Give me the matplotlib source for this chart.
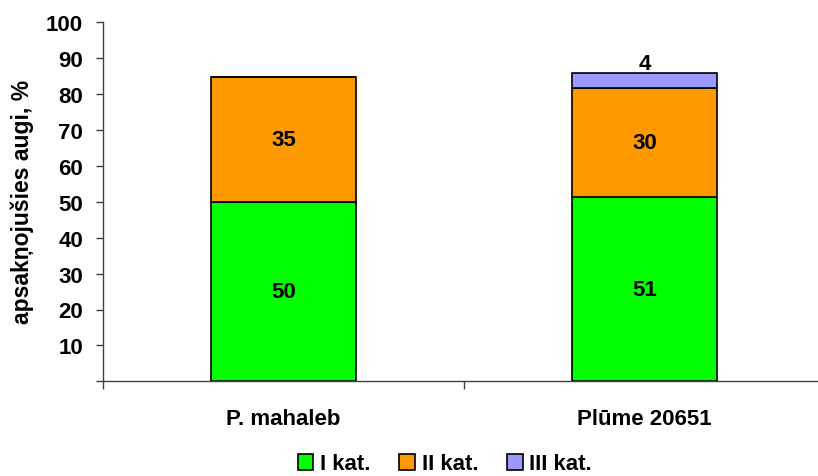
import matplotlib
matplotlib.use("Agg")
import matplotlib.pyplot as plt
import numpy as np

plt.rcParams['font.family'] = ['Liberation Sans', 'DejaVu Sans']
plt.rcParams['font.weight'] = 'bold'

categories = ["P. mahaleb", "Plūme 20651"]
series_names = ["I kat.", "II kat.", "III kat."]
kat_I = [50.0, 51.4]
kat_II = [34.8, 30.4]
kat_III = [0.0, 4.1]
colors = ["#00FF00", "#FF9900", "#9999FF"]
y_ticks = [0, 10, 20, 30, 40, 50, 60, 70, 80, 90, 100]
y_tick_labels = ["", "10", "20", "30", "40", "50", "60", "70", "80", "90", "100"]

FS = 16

fig = plt.figure(figsize=(8.18, 4.77), dpi=100)
ax = fig.add_axes([103 / 818, 1 - 382.3 / 477, 722 / 818, 359 / 477])

x = np.arange(len(categories))
width = 0.404
bottom = np.zeros(len(categories))
series = [kat_I, kat_II, kat_III]
for name, vals, col in zip(series_names, series, colors):
    vals = np.array(vals)
    ax.bar(x, vals, width, bottom=bottom, color=col, edgecolor="black",
           linewidth=1.2, label=name)
    for xi, v, b in zip(x, vals, bottom):
        if v <= 0:
            continue
        if v >= 8:
            ax.text(xi, b + v / 2, f"{v:.0f}", ha="center", va="center",
                    fontsize=FS, fontweight="bold")
        else:
            ax.text(xi, b + v - 0.3, f"{v:.0f}", ha="center", va="bottom",
                    fontsize=FS, fontweight="bold")
    bottom = bottom + vals

ax.set_xlim(-0.5, 1.5)
ax.set_ylim(0, 100)
ax.set_yticks(y_ticks)
ax.set_yticklabels(y_tick_labels, fontsize=FS, fontweight="bold")
ax.tick_params(axis="y", direction="out", length=5.3, width=1, color="#404040", pad=9)

# category boundary ticks on the x axis, labels at category centers
ax.set_xticks([-0.5, 0.5, 1.5])
ax.set_xticklabels([])
ax.tick_params(axis="x", direction="out", length=5.5, width=1, color="#404040")
ax.set_xticks(x, minor=True)
ax.set_xticklabels(categories, minor=True, fontsize=FS, fontweight="bold")
ax.tick_params(axis="x", which="minor", length=0, pad=19)

for s in ["top", "right"]:
    ax.spines[s].set_visible(False)
for s in ["left", "bottom"]:
    ax.spines[s].set_color("#404040")
    ax.spines[s].set_linewidth(1)

fig.text(22 / 818, 1 - 202 / 477, "apsakņojušies augi, %", rotation=90,
         ha="center", va="center", fontsize=16.5, fontweight="bold")

handles, labels = ax.get_legend_handles_labels()
fig.legend(handles, labels, loc="center", bbox_to_anchor=(445 / 818, 1 - 465 / 477),
           ncol=3, frameon=False, handlelength=0.7, handleheight=0.7,
           handletextpad=0.3, columnspacing=1.3,
           prop={"weight": "bold", "size": FS})

fig.savefig("out.png", dpi=100)
